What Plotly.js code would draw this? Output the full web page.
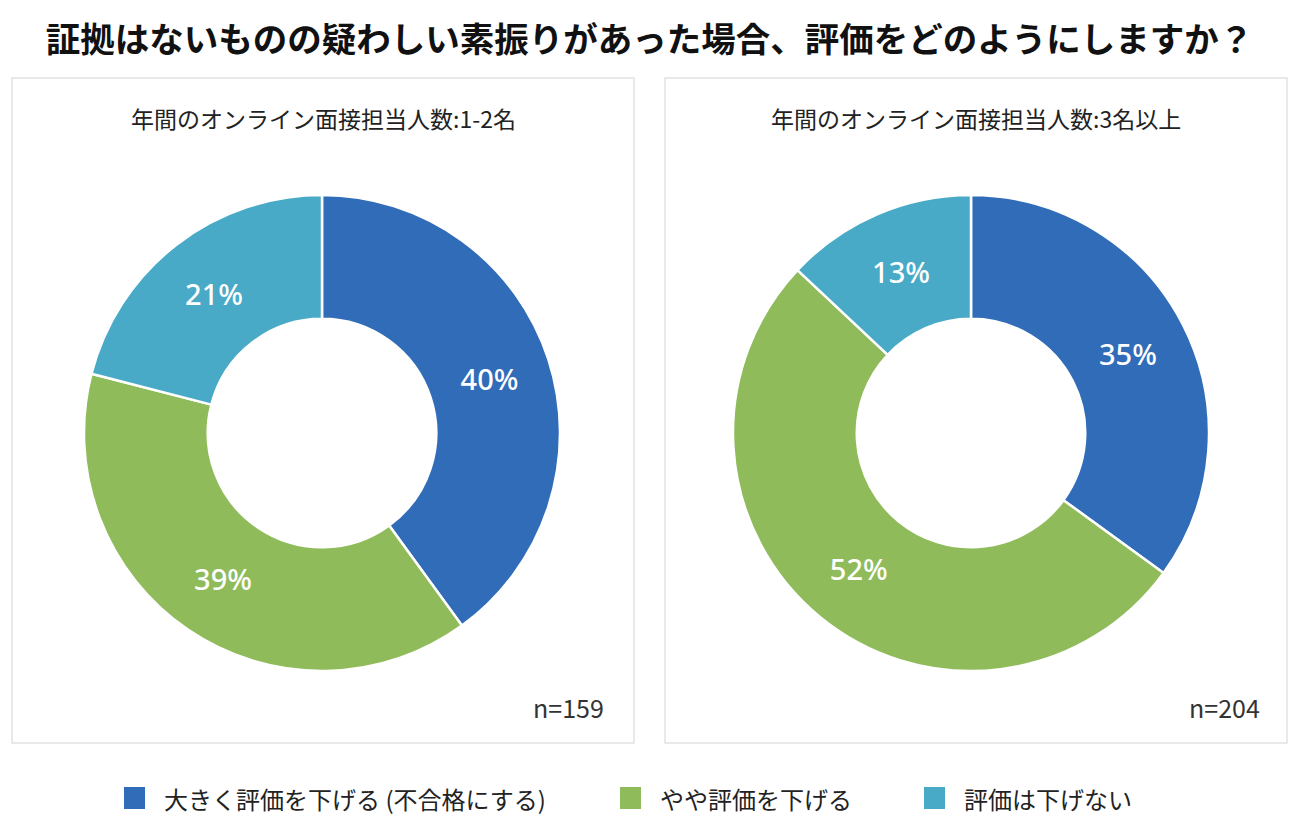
<!DOCTYPE html>
<html>
<head>
<meta charset="utf-8">
<script src="https://cdn.plot.ly/plotly-3.0.1.min.js"></script>
<style>
  html, body { margin: 0; padding: 0; background: #fff; }
  #chart { width: 1299px; height: 839px; }
</style>
</head>
<body>
<div id="chart"></div>
<script>
// data
const categories = ['大きく評価を下げる (不合格にする)', 'やや評価を下げる', '評価は下げない'];
const leftValues = [40, 39, 21];
const rightValues = [35, 52, 13];
const panelTitles = ['年間のオンライン面接担当人数:1-2名', '年間のオンライン面接担当人数:3名以上'];
const sampleSizes = ['n=159', 'n=204'];
const colors = ['#306cb8', '#8fbb5a', '#48aac6'];

const W = 1299, H = 839;
const font = '"Noto Sans CJK JP", "Noto Sans", sans-serif';
const px = v => v / W;
const py = v => 1 - v / H;

function donut(values, x0, x1) {
    return {
        type: 'pie',
        labels: categories,
        values: values,
        sort: false,
        direction: 'clockwise',
        rotation: 0,
        hole: 0.48,
        texttemplate: '%{value}%',
        textposition: 'inside',
        insidetextorientation: 'horizontal',
        textfont: { color: '#fff', size: 29, family: '"Noto Sans", sans-serif', weight: 500 },
        marker: { colors: colors, line: { color: '#fff', width: 2.5 } },
        domain: { x: [x0, x1], y: [py(673), py(193)] },
        showlegend: false,
        hoverinfo: 'skip'
    };
}

const data = [
    donut(leftValues, px(84), px(560)),
    donut(rightValues, px(733), px(1209))
];

const panelBox = (x0, x1) => ({
    type: 'rect', xref: 'paper', yref: 'paper',
    x0: px(x0), x1: px(x1), y0: py(743), y1: py(78),
    line: { color: '#e2e2e2', width: 1.5 }, fillcolor: 'rgba(0,0,0,0)', layer: 'below'
});

const shapes = [panelBox(12, 634), panelBox(665, 1287)];
const annotations = [
    { text: panelTitles[0], x: px(323), y: py(118), xanchor: 'center', yanchor: 'middle', font: { size: 23, color: '#222' } },
    { text: panelTitles[1], x: px(976), y: py(118), xanchor: 'center', yanchor: 'middle', font: { size: 23, color: '#222' } },
    { text: sampleSizes[0], x: px(606), y: py(707), xanchor: 'right', yanchor: 'middle', font: { size: 25, color: '#333' } },
    { text: sampleSizes[1], x: px(1262), y: py(707), xanchor: 'right', yanchor: 'middle', font: { size: 25, color: '#333' } }
];

// legend built by hand so the swatches match the reference size
const legendX = [124, 620, 924];
categories.forEach((c, i) => {
    shapes.push({
        type: 'rect', xref: 'paper', yref: 'paper',
        x0: px(legendX[i]), x1: px(legendX[i] + 21), y0: py(809), y1: py(787),
        line: { width: 0 }, fillcolor: colors[i]
    });
    annotations.push({
        text: c, x: px(legendX[i] + 38), y: py(798), xanchor: 'left', yanchor: 'middle',
        font: { size: 24, color: '#222' }
    });
});
annotations.forEach(a => { a.xref = 'paper'; a.yref = 'paper'; a.showarrow = false; });

const layout = {
    width: W,
    height: H,
    margin: { t: 0, b: 0, l: 0, r: 0 },
    paper_bgcolor: '#fff',
    plot_bgcolor: '#fff',
    font: { family: font, color: '#222' },
    title: {
        text: '<b>証拠はないものの疑わしい素振りがあった場合、評価をどのようにしますか？</b>',
        font: { size: 34.5, color: '#111', family: font },
        x: 0.5, xanchor: 'center',
        y: py(40), yanchor: 'middle'
    },
    shapes: shapes,
    annotations: annotations,
    showlegend: false
};

Plotly.newPlot('chart', data, layout, { displayModeBar: false, staticPlot: true });
</script>
</body>
</html>
